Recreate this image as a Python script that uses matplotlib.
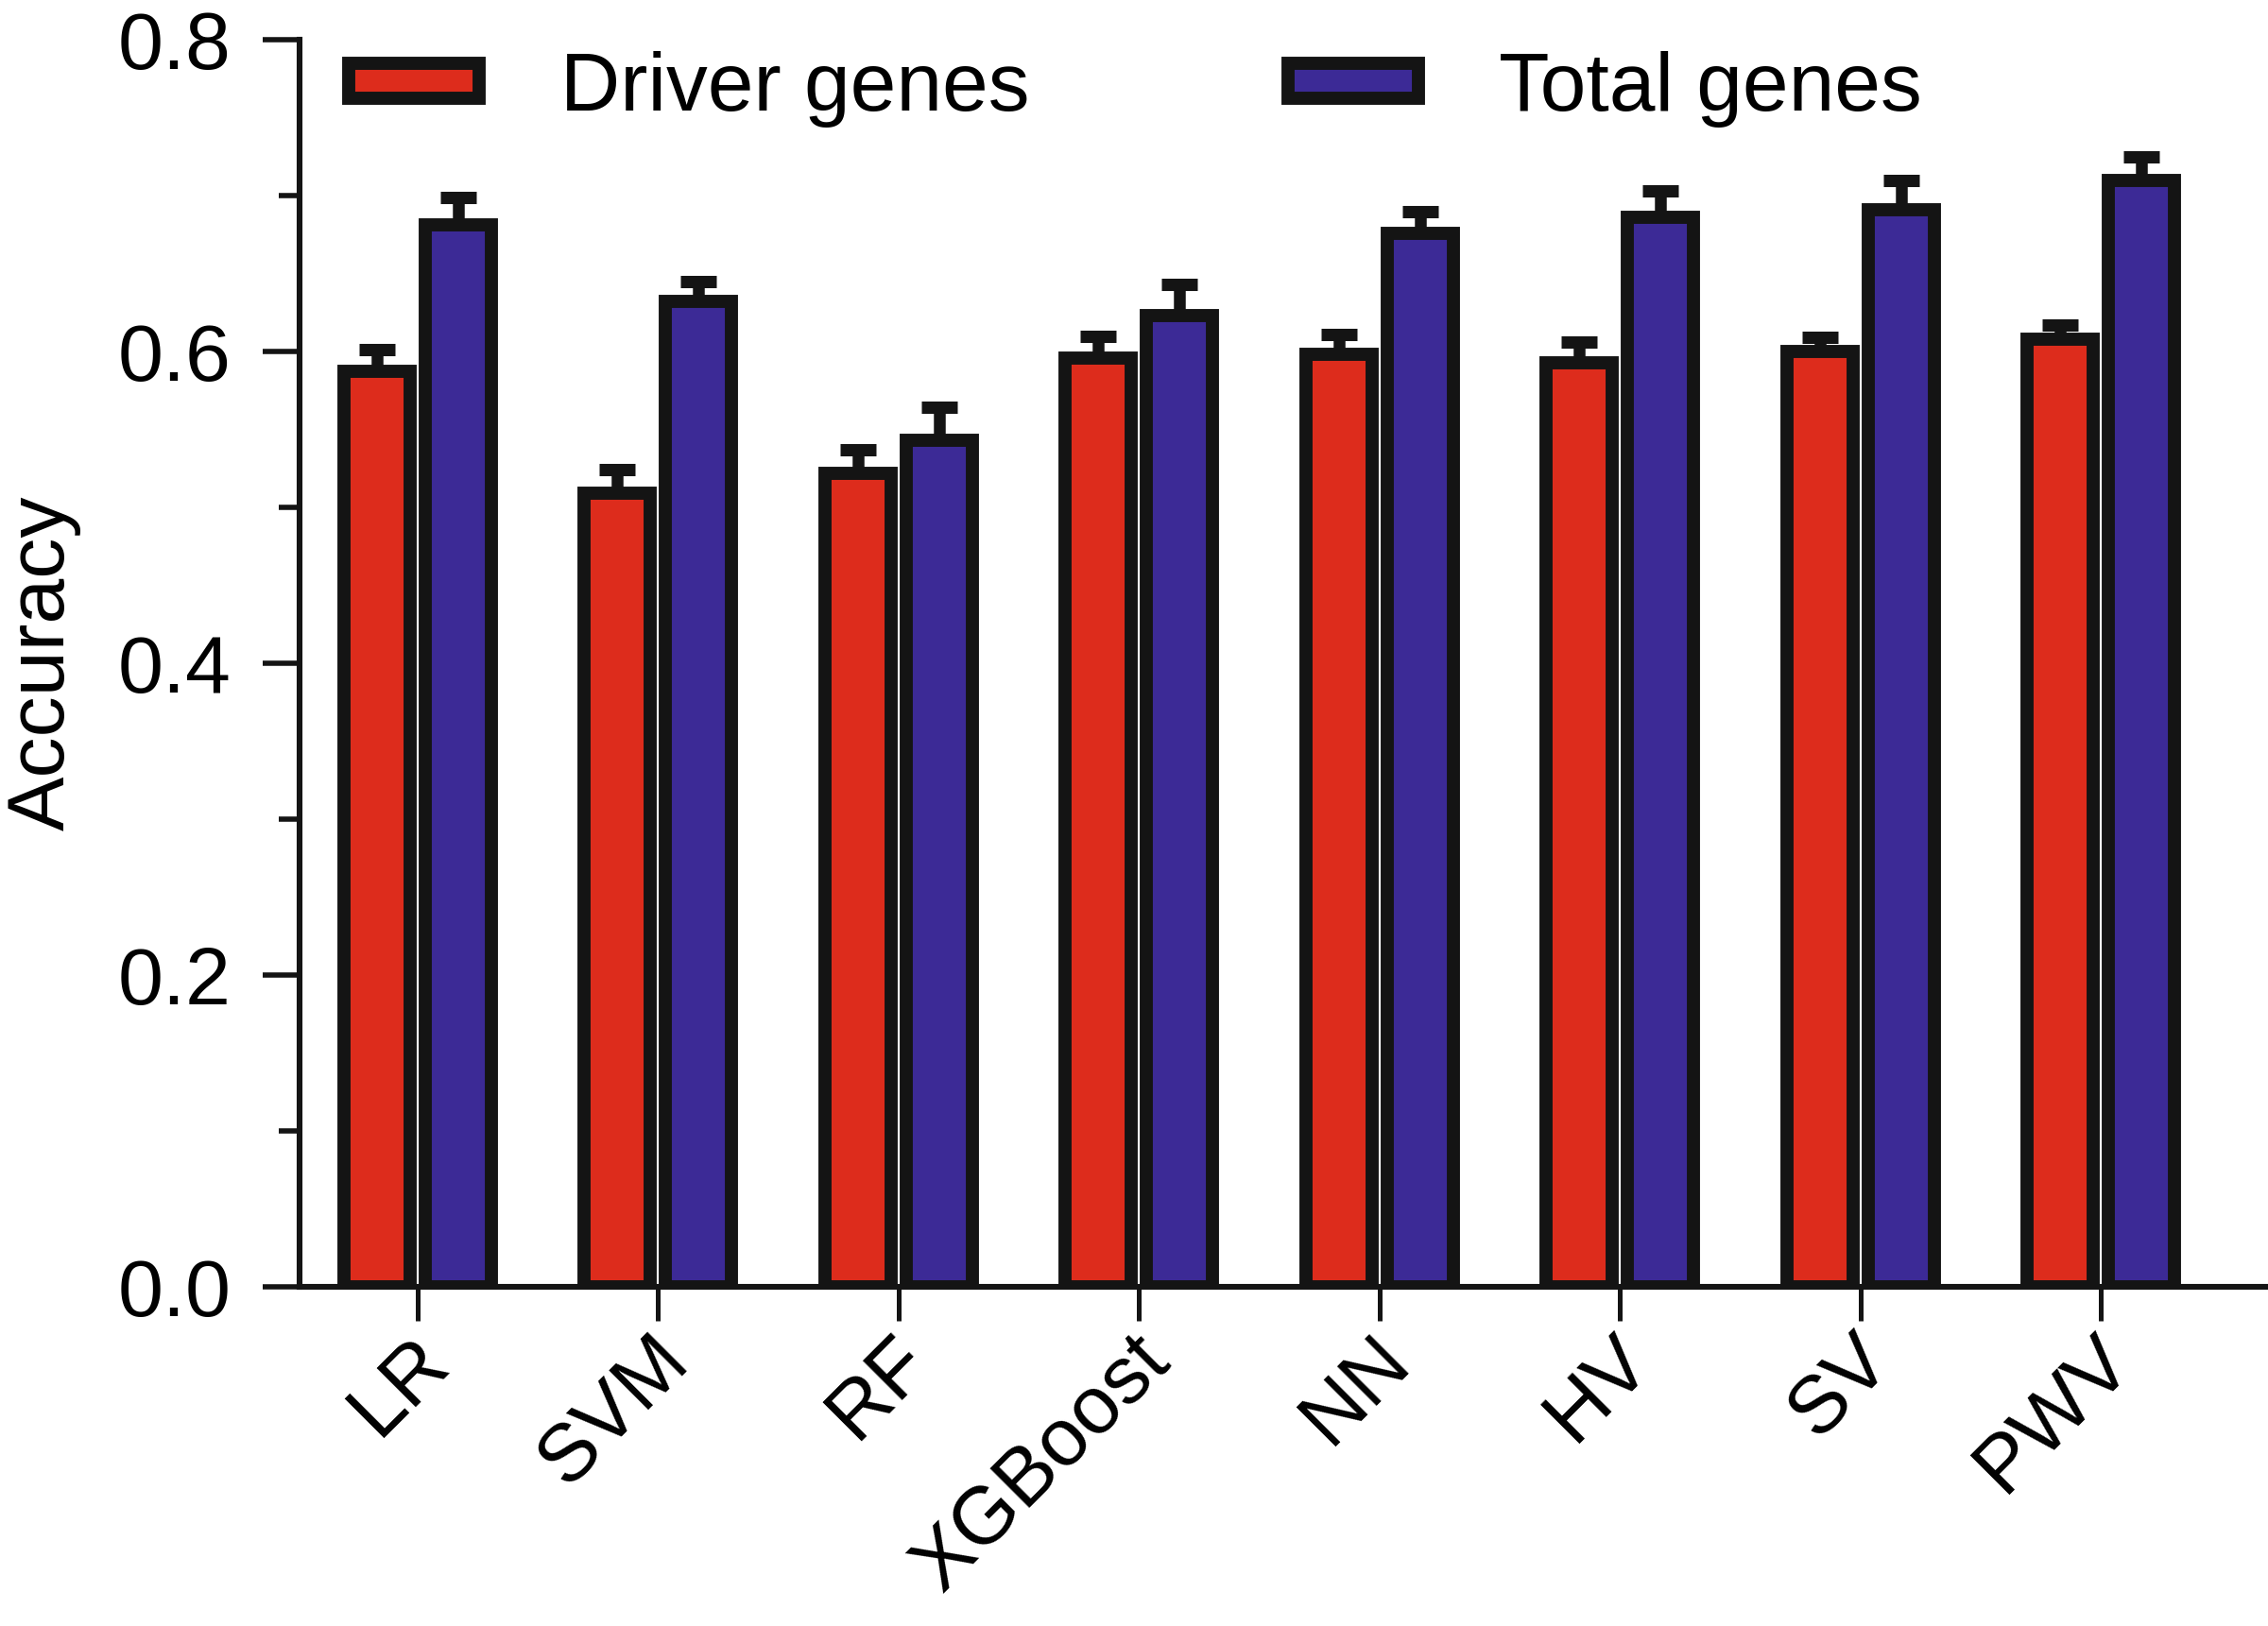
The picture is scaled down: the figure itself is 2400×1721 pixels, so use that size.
import matplotlib
matplotlib.use("Agg")
import matplotlib.pyplot as plt
import matplotlib.transforms as mtransforms
import numpy as np

categories = ["LR", "SVM", "RF", "XGBoost", "NN", "HV", "SV", "PWV"]
driver = [0.587, 0.509, 0.522, 0.596, 0.598, 0.593, 0.600, 0.608]
driver_err = [0.014, 0.015, 0.015, 0.014, 0.013, 0.013, 0.009, 0.009]
total = [0.681, 0.632, 0.543, 0.623, 0.676, 0.686, 0.691, 0.710]
total_err = [0.018, 0.013, 0.021, 0.020, 0.014, 0.017, 0.019, 0.015]
series_names = ["Driver genes", "Total genes"]
yticks = [0.0, 0.2, 0.4, 0.6, 0.8]
ytick_labels = ["0.0", "0.2", "0.4", "0.6", "0.8"]

RED = "#DD2C1C"
BLUE = "#3C2A96"
EDGE = "#141414"

plt.rcParams['font.family'] = ['Liberation Sans', 'DejaVu Sans']

DPI = 200
fig = plt.figure(figsize=(2400 / DPI, 1721 / DPI), dpi=DPI)
ax = fig.add_axes([317 / 2400, 1 - 1362 / 1721, (2398 - 317) / 2400, (1362 - 42) / 1721])

x = np.arange(len(categories))
w = 0.275
off = 0.169
lw_edge = 5.0

for vals, errs, col, sgn, name in [(driver, driver_err, RED, -1, series_names[0]),
                                   (total, total_err, BLUE, 1, series_names[1])]:
    pos = x + sgn * off
    ax.errorbar(pos, vals, yerr=[np.zeros(len(vals)), errs], fmt='none',
                ecolor=EDGE, elinewidth=4.5, capsize=7, capthick=4.7, zorder=1)
    ax.bar(pos, vals, width=w, color=col, edgecolor=EDGE, linewidth=lw_edge,
           label=name, zorder=2)

ax.set_xlim(-0.491, 7.688)
ax.set_ylim(0, 0.8)
ax.set_yticks(yticks)
ax.set_yticklabels(ytick_labels)
ax.set_yticks(np.arange(0.1, 0.8, 0.2), minor=True)

for s in ['top', 'right']:
    ax.spines[s].set_visible(False)
for s in ['left', 'bottom']:
    ax.spines[s].set_linewidth(2.2)
    ax.spines[s].set_color(EDGE)

ax.tick_params(axis='y', which='major', length=14, width=2.0, labelsize=31, pad=12, color=EDGE)
ax.tick_params(axis='y', which='minor', length=8, width=2.0, color=EDGE)
ax.tick_params(axis='x', which='major', length=13, width=1.8, labelsize=31, pad=0.5, color=EDGE)

ax.set_xticks(x)
ax.set_xticklabels(categories, rotation=45, ha='right', va='top', rotation_mode='anchor')
offset = mtransforms.ScaledTranslation(-3 / 72, 0, fig.dpi_scale_trans)
for lab in ax.get_xticklabels():
    lab.set_transform(lab.get_transform() + offset)

ax.set_ylabel("Accuracy", fontsize=31, labelpad=14)

leg = ax.legend(loc='upper left', bbox_to_anchor=(369 / 2400, 1 - 54 / 1721),
                bbox_transform=fig.transFigure, ncol=2, frameon=False,
                fontsize=31.5, handlelength=1.58, handleheight=0.29,
                handletextpad=0.98, columnspacing=3.12, borderpad=0, borderaxespad=0)

fig.savefig("out.png", dpi=DPI)
